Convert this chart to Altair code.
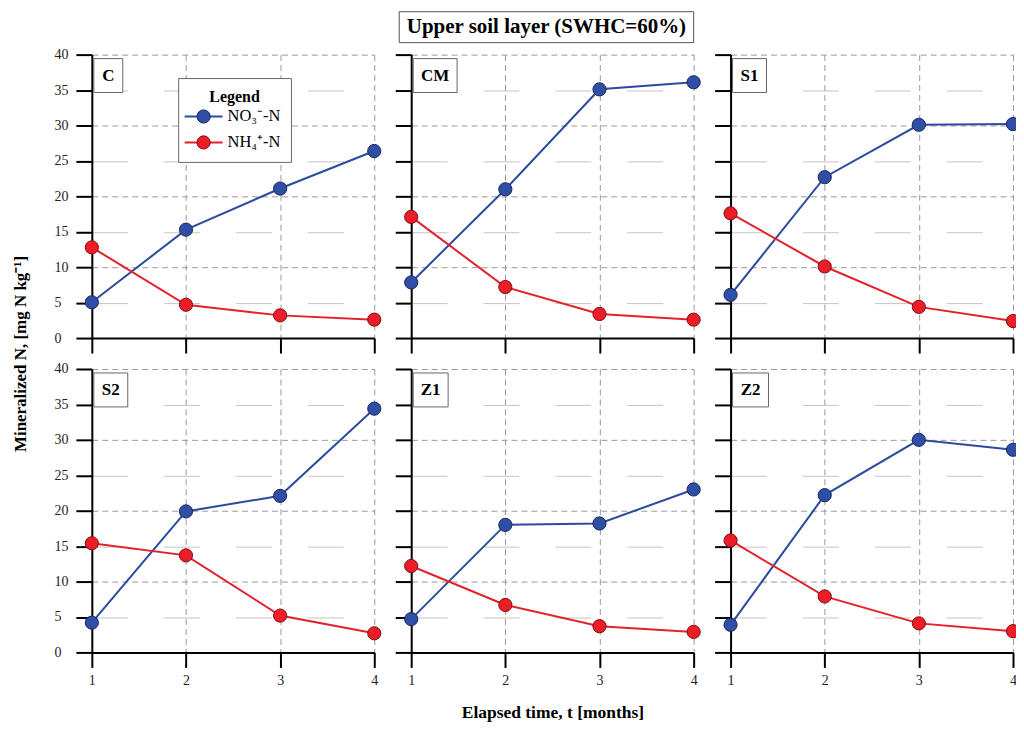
import altair as alt
import pandas as pd

# ---------------- data ----------------
months = [1, 2, 3, 4]
panel_names = ["C", "CM", "S1", "S2", "Z1", "Z2"]
series_names = ["NO3", "NH4"]

no3_values = {
    "C": [5.05, 15.3, 21.1, 26.4],
    "CM": [7.85, 21.0, 35.1, 36.1],
    "S1": [6.1, 22.7, 30.1, 30.2],
    "S2": [4.2, 19.9, 22.1, 34.4],
    "Z1": [4.7, 18.0, 18.2, 23.0],
    "Z2": [3.9, 22.2, 30.0, 28.6],
}
nh4_values = {
    "C": [12.8, 4.7, 3.2, 2.6],
    "CM": [17.1, 7.2, 3.4, 2.6],
    "S1": [17.6, 10.1, 4.4, 2.4],
    "S2": [15.4, 13.7, 5.2, 2.7],
    "Z1": [12.2, 6.7, 3.7, 2.9],
    "Z2": [15.8, 7.9, 4.1, 3.0],
}
y_ticks = [0, 5, 10, 15, 20, 25, 30, 35, 40]

chart_title = "Upper soil layer (SWHC=60%)"
x_title = "Elapsed time, t [months]"
y_title = "Mineralized N, [mg N kg\u207b\u00b9]"
legend_title = "Legend"
legend_labels = ["NO\u2083\u207b-N", "NH\u2084\u207a-N"]

rows = []
for p in panel_names:
    for m, v in zip(months, no3_values[p]):
        rows.append({"panel": p, "month": m, "series": "NO3", "value": v})
    for m, v in zip(months, nh4_values[p]):
        rows.append({"panel": p, "month": m, "series": "NH4", "value": v})
df = pd.DataFrame(rows)

# ---------------- styling ----------------
FONT = "Liberation Serif"
W, H = 283, 284
line_colors = ["#2C4A9E", "#E3212B"]
fill_colors = ["#2F4EA5", "#EC1D26"]
edge_colors = ["#1A2660", "#7E0F12"]
label_box_w = {"C": 29, "CM": 44, "S1": 34, "S2": 34, "Z1": 35, "Z2": 36}

one = pd.DataFrame({"k": [0]})


def panel(name, r, c):
    d = df[df["panel"] == name]
    bottom = r == 1
    left = c == 0

    xk = dict(values=months, labels=bottom, grid=True, gridDash=[6, 4],
              gridColor="#9a9a9a", gridWidth=1, tickSize=15, labelPadding=6,
              labelFlush=False)
    if bottom and c == 1:
        xk.update(title=x_title, titleY=60, titleBaseline="middle",
                  titleFontSize=17.5, titleFont=FONT, titleFontWeight="bold")
    else:
        xk.update(title=None)

    yk = dict(values=y_ticks, labels=left, grid=True,
              gridDash={"condition": {"test": "datum.value % 10 === 0", "value": [6, 4]},
                        "value": [36, 36]},
              gridColor={"condition": {"test": "datum.value % 10 === 0", "value": "#9a9a9a"},
                         "value": "#c4c4c4"},
              gridWidth=1, tickSize=16, labelPadding=22, labelAlign="left",
              labelFlush=False)
    if bottom and left:
        yk.update(title=y_title, titleAngle=270, titleX=-71, titleY=-15.5,
                  titleAlign="center", titleBaseline="middle", titleFontSize=17,
                  titleFont=FONT, titleFontWeight="bold")
    else:
        yk.update(title=None)

    x = alt.X("month:Q", scale=alt.Scale(domain=[1, 4], nice=False, zero=False),
              axis=alt.Axis(**xk))
    y = alt.Y("value:Q", scale=alt.Scale(domain=[0, 40], nice=False, zero=True),
              axis=alt.Axis(**yk))

    lines = alt.Chart(d).mark_line(strokeWidth=2).encode(
        x=x, y=y,
        color=alt.Color("series:N", scale=alt.Scale(domain=series_names, range=line_colors),
                        legend=None),
    )
    points = alt.Chart(d).mark_point(shape="circle", filled=True, size=175,
                                     strokeWidth=1, opacity=1).encode(
        x=x, y=y,
        fill=alt.Fill("series:N", scale=alt.Scale(domain=series_names, range=fill_colors),
                      legend=None),
        stroke=alt.Stroke("series:N", scale=alt.Scale(domain=series_names, range=edge_colors),
                          legend=None),
    )

    bw = label_box_w[name]
    box = alt.Chart(one).mark_rect(fill="white", stroke="#666", strokeWidth=1).encode(
        x=alt.value(2), x2=alt.value(2 + bw), y=alt.value(4), y2=alt.value(38))
    lab = alt.Chart(one).mark_text(text=name, font=FONT, fontWeight="bold", fontSize=17,
                                   align="center", baseline="middle", color="black").encode(
        x=alt.value(2 + bw / 2), y=alt.value(21.5))

    layers = [lines, points, box, lab]

    if name == "C":
        lbox = alt.Chart(one).mark_rect(fill="white", stroke="#666", strokeWidth=1).encode(
            x=alt.value(87), x2=alt.value(200), y=alt.value(24), y2=alt.value(108))
        ltitle = alt.Chart(one).mark_text(text=legend_title, font=FONT, fontWeight="bold",
                                          fontSize=16, align="center", baseline="middle",
                                          color="black").encode(
            x=alt.value(143), y=alt.value(42))
        layers += [lbox, ltitle]
        for i, (lbl, yy) in enumerate(zip(legend_labels, [62, 88])):
            seg = alt.Chart(one).mark_rule(strokeWidth=2, color=line_colors[i]).encode(
                x=alt.value(93), x2=alt.value(131), y=alt.value(yy))
            dot = alt.Chart(one).mark_point(shape="circle", filled=True, size=175,
                                            strokeWidth=1, opacity=1,
                                            fill=fill_colors[i], stroke=edge_colors[i]).encode(
                x=alt.value(112), y=alt.value(yy))
            txt = alt.Chart(one).mark_text(text=lbl, font=FONT, fontSize=16.5, align="left",
                                           baseline="middle", color="black").encode(
                x=alt.value(136), y=alt.value(yy))
            layers += [seg, dot, txt]

    if name == "CM":
        tbox = alt.Chart(one).mark_rect(fill="white", stroke="#555", strokeWidth=1).encode(
            x=alt.value(-12), x2=alt.value(283), y=alt.value(-43), y2=alt.value(-12))
        ttxt = alt.Chart(one).mark_text(text=chart_title, font=FONT, fontWeight="bold",
                                        fontSize=21, align="center", baseline="middle",
                                        color="black").encode(
            x=alt.value(135.5), y=alt.value(-27.5))
        layers += [tbox, ttxt]

    return alt.layer(*layers).properties(width=W, height=H)


panels = [panel(n, i // 3, i % 3) for i, n in enumerate(panel_names)]

chart = alt.concat(*panels, columns=3, spacing={"row": 31, "column": 37},
                   bounds="flush").properties(
    padding={"left": 3, "top": 2, "right": -6, "bottom": 0},
    background="white",
).configure_view(stroke=None).configure_axis(
    domainColor="black", domainWidth=2, tickColor="black", tickWidth=2,
    labelFont=FONT, labelFontSize=14, labelColor="#222", titleColor="black",
)

chart.save("out.html", embed_options={"renderer": "svg", "actions": False})
